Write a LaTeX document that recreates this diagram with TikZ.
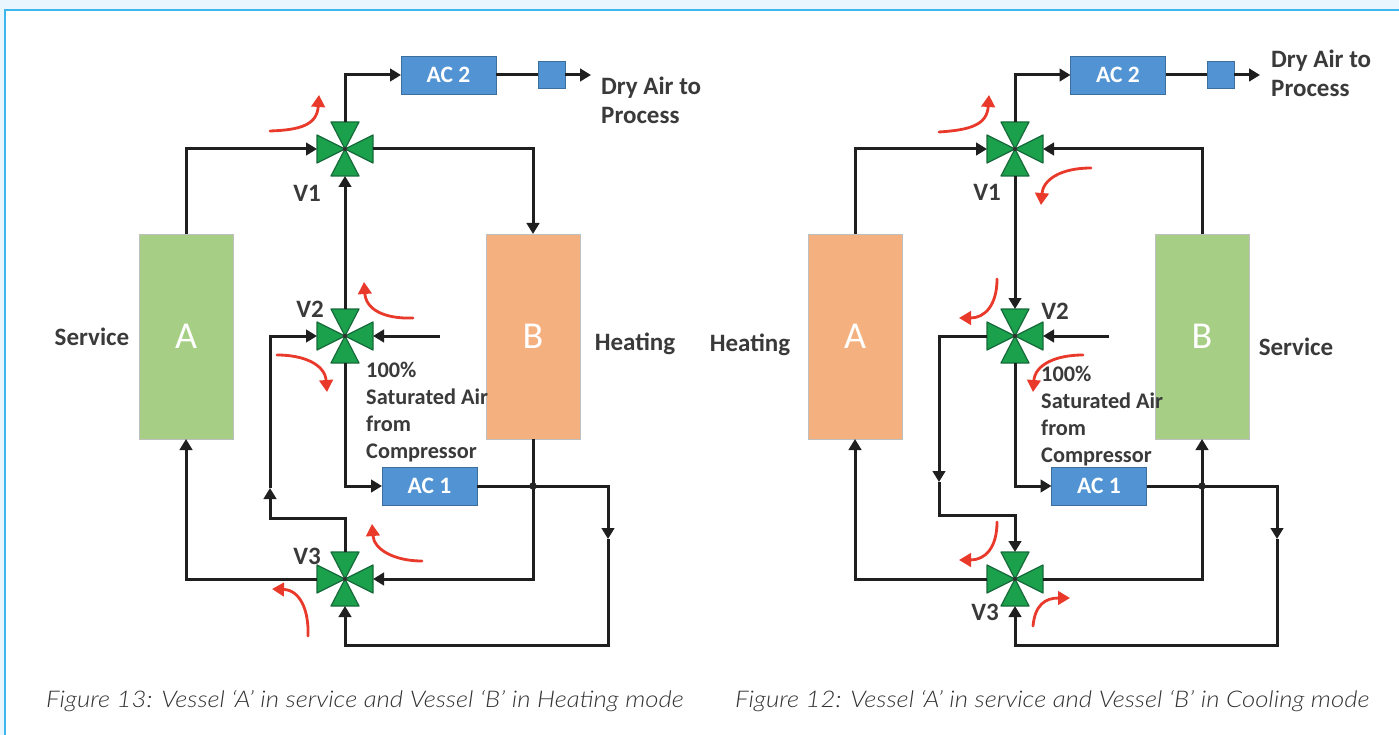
\documentclass[tikz,border=0pt]{standalone}
\usepackage{fontspec}
\setmainfont{Carlito}
\newfontfamily\capfont{Lato}[ItalicFont={Lato Light Italic},ItalicFeatures={FakeStretch=1.12}]
\usetikzlibrary{arrows.meta}
\definecolor{frameblue}{HTML}{3DB7EC}
\definecolor{paleblue}{HTML}{E9F6FD}
\definecolor{svcgreen}{HTML}{A6CE85}
\definecolor{heatorange}{HTML}{F4B17F}
\definecolor{acblue}{HTML}{5294D3}
\definecolor{valvegreen}{HTML}{1BA04C}
\definecolor{valveedge}{HTML}{176B3A}
\definecolor{labelgrey}{HTML}{3A3A3A}
\definecolor{flowred}{HTML}{E8392B}
\tikzset{
  x=1pt,y=-1pt,
  wire/.style={line width=3pt,draw=black!88,line join=miter},
  flow/.style={wire,-{Triangle[length=11pt,width=12.5pt]}},
  redflow/.style={line width=2.8pt,draw=flowred,line cap=round,-{Triangle[length=12pt,width=13.5pt]},color=flowred},
  vessel/.style={minimum width=94pt,minimum height=205pt,inner sep=0pt,outer sep=0pt,draw=black!25,line width=.7pt,text=white,font=\fontsize{38}{38}\selectfont},
  svc/.style={vessel,fill=svcgreen},
  heat/.style={vessel,fill=heatorange},
  cooler/.style={minimum width=95pt,minimum height=38pt,inner sep=0pt,outer sep=0pt,fill=acblue,draw=acblue!75!black,line width=.7pt,text=white,font=\fontsize{23.5}{23.5}\selectfont\bfseries},
  trap/.style={minimum width=27pt,minimum height=27pt,inner sep=0pt,outer sep=0pt,fill=acblue,draw=acblue!75!black,line width=.7pt},
  valvebox/.style={minimum width=56pt,minimum height=54pt,inner sep=0pt,outer sep=0pt},
  valveleaf/.style={fill=valvegreen,draw=valveedge,line width=1.2pt,line join=round},
  lab/.style={text=labelgrey,font=\fontsize{25}{29}\selectfont\bfseries,inner sep=0pt},
  sat/.style={lab,anchor=north west,align=left,font=\fontsize{22.3}{27}\selectfont\bfseries},
  caption/.style={text=black!80,font=\capfont\itshape\fontsize{23}{27}\selectfont,inner sep=0pt}
}
\newcommand{\valve}[2]{%
  \node[valvebox] (#1) at (#2) {};
  \begin{scope}[shift={(#2)}]
    \draw[valveleaf] (0,0)--(-14,-27)--(14,-27)--cycle;
    \draw[valveleaf] (0,0)--(-14,27)--(14,27)--cycle;
    \draw[valveleaf] (0,0)--(-28,-14)--(-28,14)--cycle;
    \draw[valveleaf] (0,0)--(28,-14)--(28,14)--cycle;
    \fill[black!80] (0,0) circle (2.2pt);
  \end{scope}}
\begin{document}
\begin{tikzpicture}
\useasboundingbox (0,0) rectangle (1399,735);
\fill[white] (0,0) rectangle (1399,735);
\fill[paleblue] (0,0) rectangle (1399,9);
\fill[paleblue] (0,0) rectangle (4,735);
\draw[frameblue,line width=2.2pt] (5,735) -- (5,10) -- (1399,10);

% ---------- left figure ----------
\node[svc] (LA) at (186,336.5) {A};
\node[heat] (LB) at (533,336.5) {B};
\node[cooler] (LAC2) at (448.5,75) {AC 2};
\node[trap] (LT) at (551.5,75) {};
\node[cooler] (LAC1) at (429.5,486) {AC 1};
\valve{LV1}{345,149}
\valve{LV2}{345,336}
\valve{LV3}{345,579}
\coordinate (LOut) at (591,75);
\coordinate (LIn) at (440,336);
\coordinate (LMidUp) at (270,488);
\coordinate (LMidDn) at (608,539);
\coordinate (LCross) at (533,486);
\draw[flow] (LA.north) |- (LV1.west);
\draw[flow] (LV1.north) |- (LAC2.west);
\draw[wire] (LAC2.east) -- (LT.west);
\draw[flow] (LT.east) -- (LOut);
\draw[flow] (LV1.east) -| (LB.north);
\draw[flow] (LV2.north) -- (LV1.south);
\draw[flow] (LIn) -- (LV2.east);
\draw[flow] (LV2.south) |- (LAC1.west);
\draw[flow] (LV3.north) |- (270,518) -- (LMidUp);
\draw[flow] (LMidUp) |- (LV2.west);
\draw[flow] (LAC1.east) -| (LMidDn);
\draw[flow] (LMidDn) |- (345,645) -- (LV3.south);
\draw[flow] (LB.south) |- (LV3.east);
\draw[flow] (LV3.west) -| (LA.south);
\fill[black!85] (LCross) circle (3.7pt);

\node[lab] (LV1t) at (307,193) {V1};
\node[lab] (LV2t) at (310,309) {V2};
\node[lab] (LV3t) at (307,556) {V3};
\node[lab,anchor=west,align=left] (LDry) at (601,100.5) {Dry Air to\\Process};
\node[lab] (LSvc) at (92,337) {Service};
\node[lab] (LHeat) at (635,344) {Heating};
\node[sat] (LSat) at (366,362) {100\%\\Saturated Air\\from\\Compressor};

\draw[redflow] (270,131) .. controls (300,130) and (317,125) .. (319,95);
\draw[redflow] (413,318) .. controls (385,319) and (366,310) .. (364,282);
\draw[redflow] (277,355) .. controls (305,355) and (325,365) .. (327,392);
\draw[redflow] (422,561) .. controls (395,561) and (374,550) .. (372,524);
\draw[redflow] (308,636) .. controls (309,610) and (300,590) .. (272,589);

% ---------- right figure ----------
\node[heat] (RA) at (855,336.5) {A};
\node[svc] (RB) at (1202,336.5) {B};
\node[cooler] (RAC2) at (1118,75) {AC 2};
\node[trap] (RT) at (1220.5,75) {};
\node[cooler] (RAC1) at (1099,486) {AC 1};
\valve{RV1}{1015,149}
\valve{RV2}{1015,336}
\valve{RV3}{1015,579}
\coordinate (ROut) at (1260,75);
\coordinate (RIn) at (1109,336);
\coordinate (RMidDnA) at (939,482);
\coordinate (RMidDnB) at (1277,539);
\coordinate (RCross) at (1202,486);
\draw[flow] (RA.north) |- (RV1.west);
\draw[flow] (RV1.north) |- (RAC2.west);
\draw[wire] (RAC2.east) -- (RT.west);
\draw[flow] (RT.east) -- (ROut);
\draw[flow] (RB.north) |- (RV1.east);
\draw[flow] (RV1.south) -- (RV2.north);
\draw[flow] (RIn) -- (RV2.east);
\draw[flow] (RV2.south) |- (RAC1.west);
\draw[flow] (RV2.west) -| (RMidDnA);
\draw[flow] (RMidDnA) |- (1015,515) -- (RV3.north);
\draw[flow] (RAC1.east) -| (RMidDnB);
\draw[flow] (RMidDnB) |- (1015,645) -- (RV3.south);
\draw[flow] (RV3.east) -| (RB.south);
\draw[flow] (RV3.west) -| (RA.south);
\fill[black!85] (RCross) circle (3.7pt);

\node[lab] (RV1t) at (987,192) {V1};
\node[lab] (RV2t) at (1055,311) {V2};
\node[lab] (RV3t) at (985,612) {V3};
\node[lab,anchor=west,align=left] (RDry) at (1271,73.5) {Dry Air to\\Process};
\node[lab] (RHeat) at (750,345) {Heating};
\node[lab] (RSvc) at (1296,347) {Service};
\node[sat] (RSat) at (1041,366) {100\%\\Saturated Air\\from\\Compressor};

\draw[redflow] (939,132) .. controls (970,130) and (987,125) .. (989,95);
\draw[redflow] (1091,168) .. controls (1060,168) and (1043,180) .. (1041,205);
\draw[redflow] (997,279) .. controls (997,305) and (985,318) .. (959,318);
\draw[redflow] (1083,355) .. controls (1055,355) and (1035,365) .. (1033,392);
\draw[redflow] (997,522) .. controls (997,548) and (985,560) .. (959,560);
\draw[redflow] (1033,626) .. controls (1035,605) and (1045,598) .. (1070,598);

% ---------- captions ----------
\node[caption,anchor=west] (CapL) at (46,701) {Figure 13: Vessel ‘A’ in service and Vessel ‘B’ in Heating mode};
\node[caption,anchor=west] (CapR) at (735,701) {Figure 12: Vessel ‘A’ in service and Vessel ‘B’ in Cooling mode};
\end{tikzpicture}
\end{document}
